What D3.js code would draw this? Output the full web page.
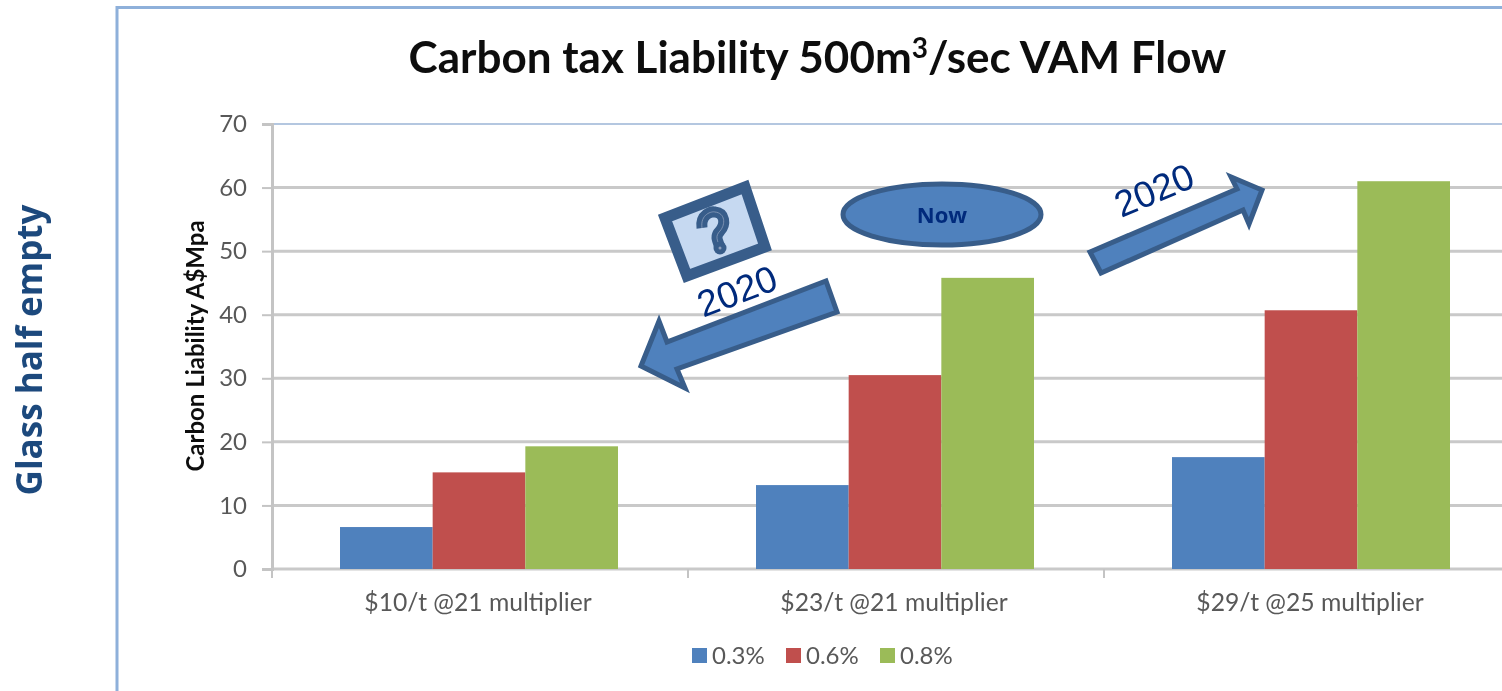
<!DOCTYPE html>
<html>
<head>
<meta charset="utf-8">
<script src="https://cdn.jsdelivr.net/npm/d3@7"></script>
<style>
  html, body { margin: 0; padding: 0; background: #fff; overflow: hidden; }
  svg { display: block; }
  text { font-family: Lato, "Open Sans", sans-serif; }
</style>
</head>
<body>
<div id="chart"></div>
<script>
const categories = ["$10/t @21 multiplier", "$23/t @21 multiplier", "$29/t @25 multiplier"]
const seriesNames = ["0.3%", "0.6%", "0.8%"]
const seriesColors = ["#4f81bd", "#c0504d", "#9bbb59"]
const values03 = [6.6, 13.2, 17.6]
const values06 = [15.2, 30.5, 40.7]
const values08 = [19.3, 45.8, 61]
const yTicks = [0, 10, 20, 30, 40, 50, 60, 70]

const allValues = [values03, values06, values08]
const width = 1502
const height = 691
const margin = { top: 124, right: -18, bottom: 122, left: 272 }
const innerW = width - margin.left - margin.right
const innerH = height - margin.top - margin.bottom

const svg = d3.select("#chart").append("svg")
  .attr("width", width).attr("height", height)
  .attr("viewBox", `0 0 ${width} ${height}`)

// The source is a slightly soft screenshot
const soft = svg.append("defs").append("filter").attr("id", "soft")
soft.append("feGaussianBlur").attr("stdDeviation", 0.6)

const root = svg.append("g").attr("filter", "url(#soft)")

// Outer frame runs off the right and bottom of the picture
root.append("path")
  .attr("d", `M117,${height + 10} V7.5 H${width + 10}`)
  .attr("fill", "none").attr("stroke", "#8eb0da").attr("stroke-width", 3)

root.append("text").attr("transform", "translate(42,350) rotate(-90)")
  .attr("text-anchor", "middle").attr("font-size", 35).attr("font-weight", 700)
  .attr("fill", "#1f497d").style("font-family", "'Open Sans'")
  .text("Glass half empty")

const title = root.append("text").attr("x", 817.5).attr("y", 73)
  .attr("text-anchor", "middle").attr("font-size", 44).attr("font-weight", 700)
  .attr("fill", "#111")
title.append("tspan").text("Carbon tax Liability 500m")
title.append("tspan").attr("dy", -15).attr("font-size", 28).text("3")
title.append("tspan").attr("dy", 15).text("/sec VAM Flow")

const g = root.append("g").attr("transform", `translate(${margin.left},${margin.top})`)

const x = d3.scaleBand().domain(categories).range([0, innerW])
const xSeries = d3.scaleBand().domain(seriesNames).range([68, x.bandwidth() - 70])
const y = d3.scaleLinear().domain([0, 70]).range([innerH, 0])

// Gridlines
g.append("g").selectAll("line").data(yTicks).join("line")
  .attr("x1", 0).attr("x2", innerW)
  .attr("y1", d => y(d)).attr("y2", d => y(d))
  .attr("stroke", d => d === 70 ? "#b4c7e0" : "#c9c9c9")
  .attr("stroke-width", d => d === 70 ? 2 : 3)

// Axes
g.append("g")
  .call(d3.axisLeft(y).tickValues(yTicks).tickSize(10).tickPadding(15))
  .call(a => a.select(".domain").attr("stroke", "#c4c4c4").attr("stroke-width", 3))
  .call(a => a.selectAll(".tick line").attr("stroke", "#c4c4c4").attr("stroke-width", 2))
  .call(a => a.selectAll(".tick text").attr("font-size", 24).attr("fill", "#595959")
    .style("font-family", "Lato"))

const xAxis = g.append("g").attr("transform", `translate(0,${innerH})`)
  .call(d3.axisBottom(x).tickSize(0).tickPadding(24))
  .call(a => a.select(".domain").remove())
  .call(a => a.selectAll(".tick text").attr("font-size", 24.7).attr("fill", "#595959")
    .attr("dx", -2).style("font-family", "Lato"))
xAxis.selectAll("line.sep").data(categories).join("line")
  .attr("class", "sep")
  .attr("x1", d => x(d)).attr("x2", d => x(d))
  .attr("y1", 0).attr("y2", 9)
  .attr("stroke", "#c4c4c4").attr("stroke-width", 2)

// Bars
const groups = g.append("g").selectAll("g").data(categories).join("g")
  .attr("transform", d => `translate(${x(d)},0)`)
groups.selectAll("rect")
  .data((d, i) => seriesNames.map((s, j) => ({ s, j, v: allValues[j][i] })))
  .join("rect")
  .attr("x", d => xSeries(d.s))
  .attr("width", xSeries.bandwidth())
  .attr("y", d => y(d.v))
  .attr("height", d => innerH - y(d.v))
  .attr("fill", d => seriesColors[d.j])

// Y axis title
root.append("text").attr("transform", "translate(204,346) rotate(-90)")
  .attr("text-anchor", "middle").attr("font-size", 24).attr("font-weight", 700)
  .attr("fill", "#111").text("Carbon Liability A$Mpa")

// Legend
const legendX = d3.scalePoint().domain(seriesNames).range([692, 880])
const legend = root.append("g").selectAll("g").data(seriesNames).join("g")
  .attr("transform", d => `translate(${legendX(d)},648)`)
legend.append("rect").attr("width", 15).attr("height", 15)
  .attr("fill", (d, i) => seriesColors[i])
legend.append("text").attr("x", 20).attr("y", 15.5)
  .attr("font-size", 24).attr("fill", "#595959").text(d => d)

// Callouts pasted over the chart
const shapeFill = "#4f81bd"
const shapeStroke = "#385d8a"
const noteColor = "#002a7c"

root.append("polygon")
  .attr("points", "641,366 659,321 667,342 826,281 837,312 677,369 685,388")
  .attr("fill", shapeFill).attr("stroke", shapeStroke).attr("stroke-width", 5)
root.append("polygon")
  .attr("points", "1090,252 1237,189 1231,177 1262,190 1249,224 1243,210 1101,273")
  .attr("fill", shapeFill).attr("stroke", shapeStroke).attr("stroke-width", 5)

root.append("polygon")
  .attr("points", "665,218 745,187 765,247 687,276")
  .attr("fill", "#c6d9f1").attr("stroke", shapeStroke).attr("stroke-width", 11)
const hook = "M702,228 C700,214 712,211 715,212 C725,213 726,224 720,231 C715,236 717,240 720,247"
root.append("path").attr("d", hook)
  .attr("fill", "none").attr("stroke", shapeStroke).attr("stroke-width", 11)
root.append("path").attr("d", hook)
  .attr("fill", "none").attr("stroke", "#8b9dba").attr("stroke-width", 0.8)
root.append("circle").attr("cx", 720).attr("cy", 248).attr("r", 6.5).attr("fill", shapeStroke)
root.append("circle").attr("cx", 720).attr("cy", 248).attr("r", 1.5).attr("fill", "#8b9dba")

root.append("ellipse").attr("cx", 942).attr("cy", 214.5).attr("rx", 99).attr("ry", 30.5)
  .attr("fill", shapeFill).attr("stroke", shapeStroke).attr("stroke-width", 5)
root.append("text").attr("x", 942).attr("y", 223)
  .attr("text-anchor", "middle").attr("font-size", 22).attr("font-weight", 700)
  .attr("fill", noteColor).style("font-family", "'Open Sans'").text("Now")

root.append("text").attr("transform", "translate(737,291) rotate(-21)")
  .attr("text-anchor", "middle").attr("dy", "0.35em").attr("font-size", 37)
  .attr("fill", noteColor).style("font-family", "'Liberation Sans'").text("2020")
root.append("text").attr("transform", "translate(1154,190) rotate(-23)")
  .attr("text-anchor", "middle").attr("dy", "0.35em").attr("font-size", 37)
  .attr("fill", noteColor).style("font-family", "'Liberation Sans'").text("2020")
</script>
</body>
</html>
